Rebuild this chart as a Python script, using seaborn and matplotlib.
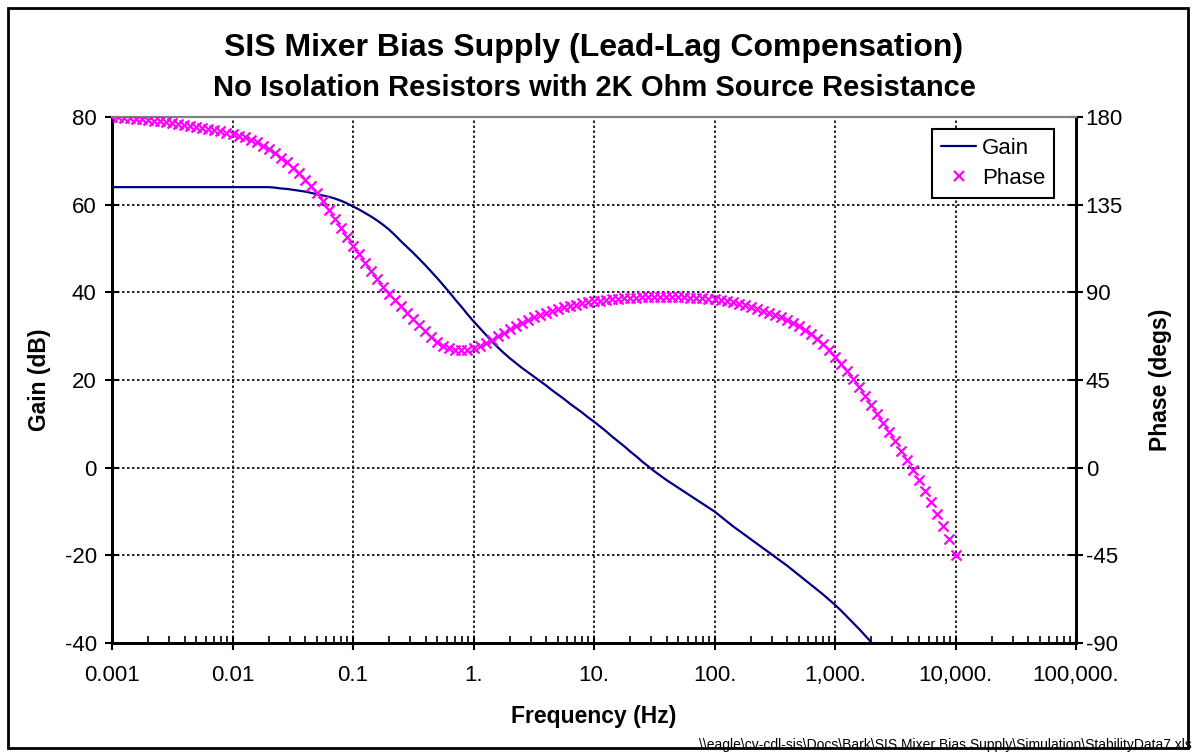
import numpy as np
import matplotlib
matplotlib.use("Agg")
import matplotlib.pyplot as plt
import seaborn as sns
from matplotlib.ticker import FixedLocator, FixedFormatter, LogLocator, NullFormatter
from matplotlib.lines import Line2D
from matplotlib.patches import Rectangle

sns.set_style("white")
plt.rcParams['font.family'] = ['Liberation Sans', 'DejaVu Sans']
plt.rcParams['axes.unicode_minus'] = False
plt.rcParams['text.color'] = 'black'
plt.rcParams['axes.labelcolor'] = 'black'
plt.rcParams['xtick.color'] = 'black'
plt.rcParams['ytick.color'] = 'black'

# ---------------- data ----------------
# simulation sweep: 20 points per decade, 0.001 Hz .. 10 kHz
freq_hz = np.logspace(-3, 4, 141)

gain_db = [
    64.0, 64.0, 64.0, 64.0, 64.0, 64.0, 64.0, 64.0, 64.0, 64.0,
    64.0, 64.0, 64.0, 64.0, 64.0, 64.0, 64.0, 64.0, 64.0, 64.0,
    64.0, 64.0, 64.0, 64.0, 64.0, 64.0, 64.0,
    63.9, 63.7, 63.6, 63.4, 63.2, 63.0, 62.7, 62.4, 62.1, 61.8,
    61.4, 60.9, 60.3, 59.6, 58.9, 58.1, 57.3, 56.4, 55.4, 54.3,
    53.0, 51.6, 50.3, 49.0, 47.6, 46.2, 44.7, 43.2, 41.6, 40.0,
    38.3, 36.7, 35.0, 33.4, 31.9, 30.4, 28.9, 27.5, 26.2, 25.0,
    23.9, 22.8, 21.8, 20.8, 19.8, 18.8, 17.7, 16.7, 15.7, 14.6,
    13.6, 12.6, 11.5, 10.5, 9.4, 8.3, 7.1, 6.0, 4.9, 3.7,
    2.6, 1.4, 0.3, -0.8, -1.8, -2.8, -3.7, -4.6, -5.5, -6.4,
    -7.3, -8.2, -9.1, -10.0, -11.1, -12.2, -13.3, -14.3, -15.3, -16.3,
    -17.3, -18.3, -19.3, -20.3, -21.3, -22.3, -23.4, -24.5, -25.6, -26.7,
    -27.8, -28.9, -30.1, -31.3, -32.6, -34.0, -35.4, -36.8, -38.3, -39.8,
    -41.3, -42.9,
]

phase_deg = [
    180.0, 179.9, 179.7, 179.5, 179.2, 178.9, 178.6, 178.2, 177.8, 177.4,
    177.0, 176.5, 176.0, 175.5, 175.0, 174.4, 173.8, 173.2, 172.6, 172.0,
    171.3, 170.5, 169.5, 168.3, 167.0, 165.3, 163.5, 161.5, 159.2, 156.7,
    154.0, 151.0, 147.8, 144.4, 141.0, 136.8, 132.3, 127.7, 123.0, 118.5,
    114.0, 109.5, 105.0, 100.8, 96.8, 92.8, 89.3, 86.0, 82.8, 79.6,
    76.4, 73.2, 70.0, 67.0, 64.5, 62.6, 61.3, 60.6, 60.3, 60.5,
    61.2, 62.4, 63.9, 65.6, 67.4, 69.2, 71.0, 72.8, 74.4, 75.9,
    77.2, 78.5, 79.6, 80.6, 81.5, 82.3, 83.0, 83.7, 84.3, 84.8,
    85.3, 85.7, 86.1, 86.4, 86.7, 86.9, 87.1, 87.3, 87.4, 87.5,
    87.6, 87.6, 87.6, 87.6, 87.5, 87.4, 87.3, 87.1, 86.9, 86.7,
    86.4, 86.0, 85.5, 84.9, 84.2, 83.4, 82.4, 81.4, 80.4, 79.3,
    78.2, 77.2, 75.9, 74.4, 72.8, 70.8, 68.7, 66.3, 63.7, 60.4,
    56.8, 53.3, 49.6, 45.6, 41.4, 37.0, 32.4, 27.7, 23.0, 18.3,
    13.6, 8.8, 3.9, -1.2, -6.5, -12.0, -17.7, -23.6, -29.8, -36.8,
    -45.0,
]

x_ticks = [1e-3, 1e-2, 1e-1, 1e0, 1e1, 1e2, 1e3, 1e4, 1e5]
x_tick_labels = ["0.001", "0.01", "0.1", "1.", "10.", "100.", "1,000.", "10,000.", "100,000."]
gain_ticks = [-40, -20, 0, 20, 40, 60, 80]
phase_ticks = [-90, -45, 0, 45, 90, 135, 180]

title_lines = ["SIS Mixer Bias Supply (Lead-Lag Compensation)",
               "No Isolation Resistors with 2K Ohm Source Resistance"]
footer = r"\\eagle\cv-cdl-sis\Docs\Bark\SIS Mixer Bias Supply\Simulation\StabilityData7.xls"

GAIN_C = "#000080"
PHASE_C = "#FF00FF"

# ---------------- figure ----------------
W, H = 1196, 753
fig = plt.figure(figsize=(W / 100, H / 100), dpi=100)
fig.patch.set_facecolor("white")

L, R, T, B = 112, 1076, 117, 643
ax = fig.add_axes([L / W, 1 - B / H, (R - L) / W, (B - T) / H])
ax.set_xscale("log")
ax2 = ax.twinx()

sns.lineplot(x=freq_hz[:len(gain_db)], y=gain_db, ax=ax, color=GAIN_C,
             linewidth=1.6, legend=False, sort=False, zorder=3)
sns.scatterplot(x=freq_hz, y=phase_deg, ax=ax2, marker="x", color=PHASE_C,
                s=52, linewidth=1.6, legend=False, zorder=3)

ax.set_xlim(1e-3, 1e5)
ax.set_ylim(-40, 80)
ax2.set_ylim(-90, 180)

ax.xaxis.set_major_locator(FixedLocator(x_ticks))
ax.xaxis.set_major_formatter(FixedFormatter(x_tick_labels))
ax.xaxis.set_minor_locator(LogLocator(base=10, subs=np.arange(2, 10), numticks=30))
ax.xaxis.set_minor_formatter(NullFormatter())
ax.yaxis.set_major_locator(FixedLocator(gain_ticks))
ax2.yaxis.set_major_locator(FixedLocator(phase_ticks))

ax.grid(True, which="major", axis="both", color="black",
        linestyle=(0, (1.5, 1.5)), linewidth=1.2)
ax2.grid(False)

for a in (ax, ax2):
    for s in ("left", "right", "bottom"):
        a.spines[s].set_color("black")
        a.spines[s].set_linewidth(2)
    a.spines["top"].set_color("#808080")
    a.spines["top"].set_linewidth(1.5)

ax.tick_params(axis="x", which="major", direction="inout", length=10, width=1.5,
               labelsize=16, pad=11, bottom=True, colors="black")
ax.tick_params(axis="x", which="minor", direction="in", length=5, width=1.2, bottom=True)
ax.tick_params(axis="y", which="major", direction="inout", length=10, width=1.5,
               labelsize=16, pad=6, left=True, colors="black")
ax2.tick_params(axis="y", which="major", direction="inout", length=10, width=1.5,
                labelsize=16, pad=2, right=True, colors="black")

ax.set_xlabel("Frequency (Hz)", fontsize=16.5, fontweight="bold", color="black")
ax.set_ylabel("Gain (dB)", fontsize=16.5, fontweight="bold", color="black")
ax2.set_ylabel("Phase (degs)", fontsize=16.5, fontweight="bold", color="black")
ax.xaxis.set_label_coords(0.5, (B - 716) / (B - T))
ax.xaxis.label.set_va("center")
ax.yaxis.set_label_coords((40 - L) / (R - L), 0.5)
ax.yaxis.label.set_va("center")
ax2.yaxis.set_label_coords((1160 - L) / (R - L), 0.5)
ax2.yaxis.label.set_va("center")

handles = [Line2D([], [], color=GAIN_C, lw=1.6),
           Line2D([], [], color=PHASE_C, marker="x", ls="none", ms=7.2, mew=1.6)]
leg = ax2.legend(handles, ["Gain", "Phase"], loc="upper right",
                 bbox_to_anchor=((1054 - L) / (R - L), (B - 129) / (B - T)),
                 frameon=True, fancybox=False, edgecolor="black", fontsize=16,
                 handlelength=1.6, handletextpad=0.25, borderpad=0.4,
                 labelspacing=0.42, borderaxespad=0)
leg.get_frame().set_linewidth(1.5)
leg.get_frame().set_alpha(1)
for t in leg.get_texts():
    t.set_color("black")

fig.text(594 / W, 1 - 48 / H, title_lines[0], ha="center", va="center",
         fontsize=23, fontweight="bold", color="black")
fig.text(594 / W, 1 - 88 / H, title_lines[1], ha="center", va="center",
         fontsize=21, fontweight="bold", color="black")

fig.patches.append(Rectangle((8 / W, 5 / H), 1180 / W, 740 / H, transform=fig.transFigure,
                             fill=False, edgecolor="black", linewidth=2))
fig.text(1192 / W, 1.5 / H, footer, ha="right", va="bottom", fontsize=10, color="black")

fig.savefig("out.png", dpi=100)
